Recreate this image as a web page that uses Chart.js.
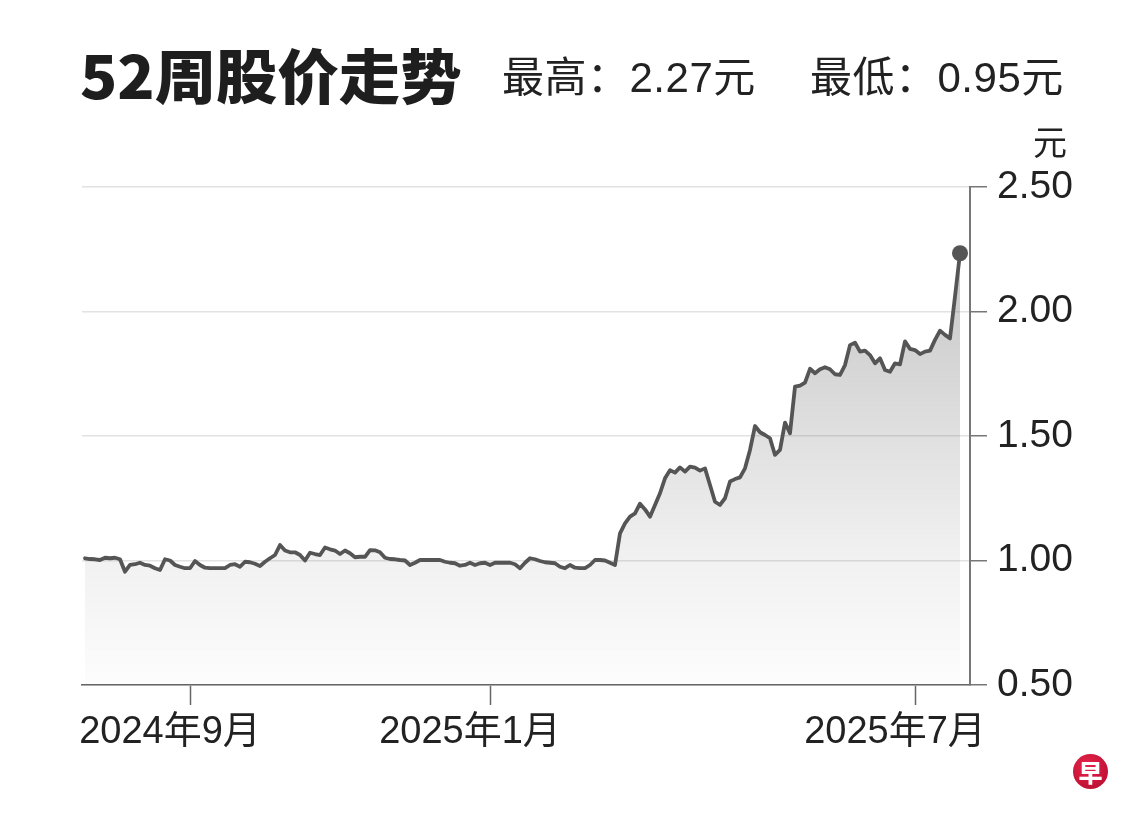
<!DOCTYPE html>
<html>
<head>
<meta charset="utf-8">
<script src="https://cdn.jsdelivr.net/npm/chart.js@4"></script>
<style>
  html, body { margin:0; padding:0; background:#fff; }
  #wrap { position:relative; width:1140px; height:818px; overflow:hidden; }
  #c { position:absolute; left:0; top:0; }
  .t { position:absolute; white-space:nowrap; color:#222; line-height:1; }
  #title { left:80px; top:44px; font-family:"Noto Sans CJK SC", sans-serif; font-weight:900; font-size:59px; color:#1e1e1e; transform:scaleX(1.04); transform-origin:left top; }
  #hi { left:502px; top:57px; font-family:"Liberation Sans","Noto Sans CJK SC",sans-serif; font-size:42px; letter-spacing:0.5px; }
  #lo { left:810px; top:57px; font-family:"Liberation Sans","Noto Sans CJK SC",sans-serif; font-size:42px; letter-spacing:0.5px; }
  #unit { left:1033px; top:124px; font-family:"Noto Sans CJK SC",sans-serif; font-size:34px; }
  #logo { position:absolute; left:1073px; top:754px; width:35px; height:35px; border-radius:50%;
          background:radial-gradient(circle at 40% 35%, #e8244a, #b00a2e); color:#fff;
          font-family:"Noto Sans CJK SC",sans-serif; font-weight:900; font-size:24px; line-height:35px; text-align:center; }
</style>
</head>
<body>
<div id="wrap">
  <canvas id="c" width="1140" height="818"></canvas>
  <div class="t" id="title">52周股价走势</div>
  <div class="t" id="hi">最高：2.27元</div>
  <div class="t" id="lo">最低：0.95元</div>
  <div class="t" id="unit">元</div>
  <div id="logo">早</div>
</div>
<script>
// Closing prices, evenly spaced samples across the 52-week window (元)
const values = [
  1.009, 1.006, 1.005, 1.002, 1.011, 1.009, 1.011, 1.005, 0.955, 0.982,
  0.985, 0.991, 0.982, 0.979, 0.969, 0.962, 1.005, 1.000, 0.982, 0.975,
  0.969, 0.969, 0.998, 0.982, 0.971, 0.969, 0.969, 0.969, 0.969, 0.982,
  0.985, 0.975, 0.995, 0.993, 0.987, 0.978, 0.995, 1.009, 1.022, 1.062,
  1.040, 1.033, 1.033, 1.022, 1.000, 1.031, 1.026, 1.022, 1.052, 1.045,
  1.040, 1.026, 1.040, 1.029, 1.013, 1.015, 1.015, 1.042, 1.041, 1.033,
  1.011, 1.006, 1.005, 1.002, 1.000, 0.982, 0.991, 1.002, 1.002, 1.002,
  1.002, 1.002, 0.995, 0.991, 0.989, 0.979, 0.982, 0.991, 0.982, 0.989,
  0.991, 0.982, 0.991, 0.991, 0.991, 0.991, 0.985, 0.969, 0.991, 1.009,
  1.005, 0.998, 0.993, 0.991, 0.989, 0.975, 0.969, 0.982, 0.971, 0.969,
  0.969, 0.982, 1.002, 1.002, 1.000, 0.991, 0.982, 1.109, 1.149, 1.176,
  1.189, 1.228, 1.205, 1.176, 1.223, 1.270, 1.330, 1.363, 1.353, 1.374,
  1.357, 1.377, 1.373, 1.361, 1.370, 1.303, 1.236, 1.223, 1.250, 1.317,
  1.327, 1.334, 1.370, 1.444, 1.540, 1.515, 1.504, 1.491, 1.424, 1.444,
  1.554, 1.511, 1.698, 1.702, 1.714, 1.770, 1.752, 1.768, 1.776, 1.768,
  1.748, 1.745, 1.785, 1.865, 1.875, 1.839, 1.843, 1.825, 1.792, 1.812,
  1.765, 1.758, 1.792, 1.788, 1.880, 1.850, 1.845, 1.829, 1.839, 1.843,
  1.886, 1.923, 1.906, 1.892, 2.060, 2.234
];
// Month ticks: sample index where each month starts, and its label
const tickIdx = [21, 81, 166];
const tickLabels = ['2024年9月', '2025年1月', '2025年7月'];
// Price axis ticks
const yTicks = [0.5, 1.0, 1.5, 2.0, 2.5];

const FAMILY = '"Liberation Sans", "Noto Sans CJK SC", sans-serif';

new Chart(document.getElementById('c'), {
  type: 'line',
  data: {
    datasets: [{
      data: values.map((v, i) => ({ x: i, y: v })),
      borderColor: '#555',
      borderWidth: 3.8,
      borderJoinStyle: 'round',
      borderCapStyle: 'round',
      tension: 0,
      pointRadius: values.map((v, i) => i === values.length - 1 ? 8 : 0),
      pointBackgroundColor: '#555',
      pointBorderWidth: 0,
      fill: 'start',
      backgroundColor: (c) => {
        const a = c.chart.chartArea;
        if (!a) return 'rgba(80,80,80,0.1)';
        const g = c.chart.ctx.createLinearGradient(0, a.top, 0, a.bottom);
        g.addColorStop(0, 'rgba(80,80,80,0.38)');
        g.addColorStop(0.3, 'rgba(80,80,80,0.26)');
        g.addColorStop(0.75, 'rgba(80,80,80,0.08)');
        g.addColorStop(1, 'rgba(80,80,80,0.015)');
        return g;
      }
    }]
  },
  options: {
    responsive: false,
    devicePixelRatio: 1,
    animation: false,
    layout: { padding: { left: 82, top: 187, right: 0, bottom: 0 } },
    plugins: { legend: { display: false }, tooltip: { enabled: false } },
    scales: {
      x: {
        type: 'linear',
        min: -0.6,
        max: 177,
        afterFit(s) { s.height = 133; },
        afterBuildTicks(s) { s.ticks = tickIdx.map(v => ({ value: v })); },
        ticks: {
          callback: (v, i) => tickLabels[i],
          autoSkip: false,
          maxRotation: 0,
          font: { size: 38, family: FAMILY },
          color: '#222',
          padding: 5,
          labelOffset: -20
        },
        grid: { drawOnChartArea: false, drawTicks: true, tickLength: 20, tickColor: '#666', tickWidth: 1.5 },
        border: { color: '#666', width: 1.5 }
      },
      y: {
        position: 'right',
        min: 0.5,
        max: 2.5,
        afterFit(s) { s.width = 170; },
        afterBuildTicks(s) { s.ticks = yTicks.map(v => ({ value: v })); },
        ticks: {
          callback: (v) => Number(v).toFixed(2),
          font: { size: 39, family: FAMILY },
          color: '#222',
          padding: 10
        },
        grid: { color: '#e2e2e2', lineWidth: 1.5, tickLength: 17, tickColor: '#777', tickWidth: 1.5 },
        border: { color: '#777', width: 2 }
      }
    }
  }
});
</script>
</body>
</html>
